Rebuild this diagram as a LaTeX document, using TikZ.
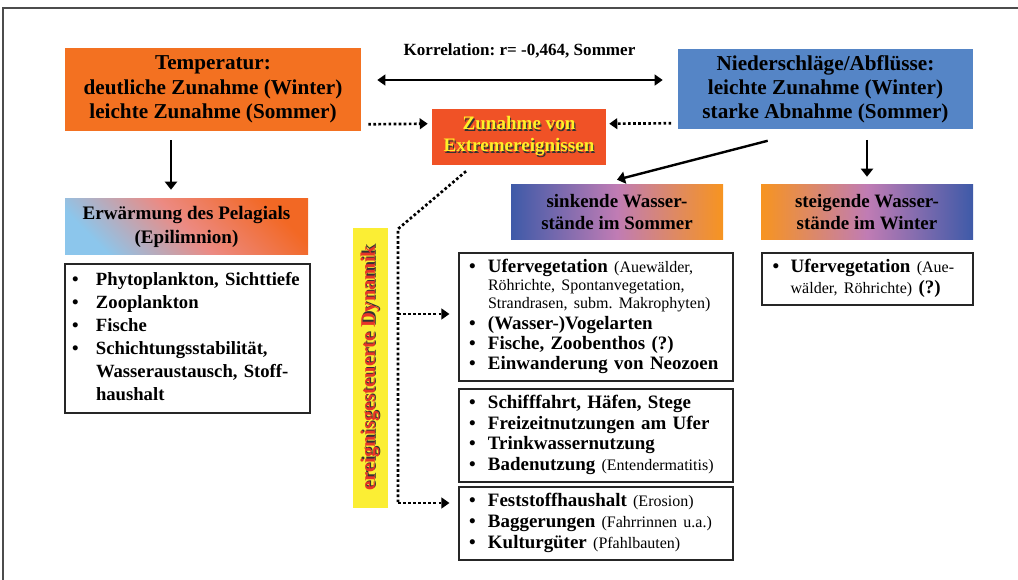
\documentclass[tikz,border=0pt]{standalone}
\usepackage{fontspec}
\setmainfont{Liberation Serif}
\usetikzlibrary{arrows.meta}
\frenchspacing

\definecolor{tempor}{RGB}{243,113,33}
\definecolor{niedbl}{RGB}{85,133,198}
\definecolor{extrrd}{RGB}{240,82,38}
\definecolor{extryl}{RGB}{255,240,40}
\definecolor{dynyl}{RGB}{251,238,52}
\definecolor{dynrd}{RGB}{232,52,40}
\definecolor{gradbl}{RGB}{62,90,168}
\definecolor{gradpk}{RGB}{192,124,180}
\definecolor{grador}{RGB}{247,148,32}
\definecolor{erwbl}{RGB}{140,198,236}
\definecolor{erwpk}{RGB}{236,138,130}
\definecolor{erwor}{RGB}{242,104,36}

\newcommand{\shtext}[2]{\makebox[0pt][l]{\kern0.9pt\raisebox{-0.9pt}{\color{black!80}#2}}{\color{#1}#2}}
\newcommand{\lbul}[1]{\makebox[#1][l]{\textbullet}}
\newcommand{\rgtxt}[1]{{\fontsize{12}{13.5}\selectfont\mdseries #1}}

\begin{document}
\begin{tikzpicture}[x=0.75pt,y=0.75pt,yscale=-1,xscale=1,
  hdbox/.style={inner sep=0pt, align=center, font=\fontsize{15.9}{18.2}\selectfont\bfseries},
  listbox/.style={draw=black!85, line width=0.8pt, fill=white, inner ysep=0pt, align=left},
  arr/.style={-{Triangle[length=6pt,width=9pt]}, line width=1.8pt},
  dblarr/.style={{Triangle[length=6pt,width=8pt]}-{Triangle[length=6pt,width=8pt]}, line width=1.9pt},
  dotln/.style={line width=2pt, dash pattern=on 2pt off 1.8pt},
  dotarr/.style={dotln, -{Triangle[length=6pt,width=8pt]}}]
\useasboundingbox (0,0) rectangle (1018,580);

%Shape: Frame
\draw[black!70, line width=1.2pt] (3,580) -- (3,8) -- (1018,8) ;

% Text Node
\node[hdbox, fill=tempor, minimum width=222pt, minimum height=62.25pt] (temp) at (213,89.5) {Temperatur:\\deutliche Zunahme (Winter)\\leichte Zunahme (Sommer)};
% Text Node
\node[hdbox, fill=niedbl, minimum width=221.25pt, minimum height=60pt] (nied) at (825.5,89.5) {Niederschläge/Abflüsse:\\leichte Zunahme (Winter)\\starke Abnahme (Sommer)};
% Text Node
\node[inner sep=0pt, font=\fontsize{12.8}{14}\selectfont\bfseries] (korr) at (519.5,51) {Korrelation: r= -0,464, Sommer};
% Text Node
\node[hdbox, fill=extrrd, minimum width=130.5pt, minimum height=42pt, font=\fontsize{14.3}{16.5}\selectfont\bfseries] (extr) at (519,137) {\shtext{extryl}{Zunahme von}\\\shtext{extryl}{Extremereignissen}};
% Text Node
\node[hdbox, left color=erwbl, right color=erwor, middle color=erwpk, shading angle=135, minimum width=182.25pt, minimum height=42pt, font=\fontsize{14.3}{18}\selectfont\bfseries] (erw) at (186.5,227) {Erwärmung des Pelagials\\(Epilimnion)};
% Text Node
\node[hdbox, left color=gradbl, right color=grador, middle color=gradpk, minimum width=159pt, minimum height=41.25pt, font=\fontsize{14.2}{16.5}\selectfont\bfseries] (sink) at (617,212.5) {sinkende Wasser-\\stände im Sommer};
% Text Node
\node[hdbox, left color=grador, right color=gradbl, middle color=gradpk, minimum width=159pt, minimum height=41.25pt, font=\fontsize{14.2}{16.5}\selectfont\bfseries] (steig) at (867,212.5) {steigende Wasser-\\stände im Winter};
% Text Node
\node[rotate=90, fill=dynyl, minimum width=210pt, minimum height=26.25pt, inner sep=0pt, font=\fontsize{15.5}{17}\selectfont\bfseries] (dyn) at (370.5,368) {\shtext{dynrd}{ereignisgesteuerte Dynamik}};

% Text Node
\node[listbox, inner xsep=5.25pt, text width=173.25pt, minimum height=111.75pt, font=\fontsize{14}{17.25}\selectfont\bfseries] (lst1) at (187.5,338.5) {\noindent\begin{tabular}{@{}l@{}l@{}}
\lbul{18pt} & Phytoplankton, Sichttiefe\\
\lbul{18pt} & Zooplankton\\
\lbul{18pt} & Fische\\
\lbul{18pt} & Schichtungsstabilität,\\
 & Wasseraustausch, Stoff-\\
 & haushalt
\end{tabular}};
% Text Node
\node[listbox, inner xsep=7.5pt, text width=190.5pt, minimum height=96pt, font=\fontsize{14.2}{15.2}\selectfont\bfseries] (lst2) at (596,317) {\noindent\begin{tabular}{@{}l@{}l@{}}
\lbul{14.25pt} & Ufervegetation \rgtxt{(Auewälder,}\\[-1.5pt]
 & \rgtxt{Röhrichte, Spontanvegetation,}\\[-1.5pt]
 & \rgtxt{Strandrasen, subm. Makrophyten)}\\
\lbul{14.25pt} & (Wasser-)Vogelarten\\
\lbul{14.25pt} & Fische, Zoobenthos (?)\\
\lbul{14.25pt} & Einwanderung von Neozoen
\end{tabular}};
% Text Node
\node[listbox, inner xsep=7.5pt, text width=190.5pt, minimum height=69.75pt, font=\fontsize{14.2}{15.5}\selectfont\bfseries] (lst3) at (596,435.5) {\noindent\begin{tabular}{@{}l@{}l@{}}
\lbul{14.25pt} & Schifffahrt, Häfen, Stege\\
\lbul{14.25pt} & Freizeitnutzungen am Ufer\\
\lbul{14.25pt} & Trinkwassernutzung\\
\lbul{14.25pt} & Badenutzung \rgtxt{(Entendermatitis)}
\end{tabular}};
% Text Node
\node[listbox, inner xsep=7.5pt, text width=190.5pt, minimum height=54.75pt, font=\fontsize{14.2}{15.5}\selectfont\bfseries] (lst4) at (596,523.5) {\noindent\begin{tabular}{@{}l@{}l@{}}
\lbul{14.25pt} & Feststoffhaushalt \rgtxt{(Erosion)}\\
\lbul{14.25pt} & Baggerungen \rgtxt{(Fahrrinnen u.a.)}\\
\lbul{14.25pt} & Kulturgüter \rgtxt{(Pfahlbauten)}
\end{tabular}};
% Text Node
\node[listbox, inner xsep=8pt, text width=142.25pt, minimum height=39pt, font=\fontsize{14.2}{15.5}\selectfont\bfseries] (lst5) at (867.5,279) {\noindent\begin{tabular}{@{}l@{}l@{}}
\lbul{13.5pt} & Ufervegetation \rgtxt{(Aue-}\\
 & \rgtxt{wälder, Röhrichte)} (?)
\end{tabular}};

%Straight Lines
\draw[dblarr] ([shift={(12pt,-7.1pt)}]temp.east) -- ([shift={(-11.25pt,-7.1pt)}]nied.west) ;
\draw[dotarr] ([shift={(5.25pt,-5.25pt)}]temp.south east) -- ([shift={(-3pt,11.25pt)}]extr.north west) ;
\draw[dotarr] ([shift={(-4.875pt,-4.875pt)}]nied.south west) -- ([shift={(2.25pt,11.25pt)}]extr.north east) ;
\draw[arr] ([shift={(-31.5pt,6.75pt)}]temp.south) -- ([shift={(-11.625pt,-6.75pt)}]erw.north) ;
\draw[arr] ([shift={(67.5pt,8.25pt)}]nied.south west) -- ([yshift=-3.75pt]sink.north) ;
\draw[arr] ([shift={(31.125pt,7.5pt)}]nied.south) -- ([yshift=-6pt]steig.north) ;

%Dotted path
\coordinate (knick) at (398,229);
\coordinate (abzw) at (398,314);
\coordinate (fuss) at (398,503);
\draw[dotln] ([shift={(-39.75pt,4.5pt)}]extr.south) -- (knick) -- (fuss) ;
\draw[dotarr, shorten >=6.75pt] (abzw) -- (abzw -| lst2.west) ;
\draw[dotarr, shorten >=6.75pt] (fuss) -- (fuss -| lst4.west) ;

\end{tikzpicture}
\end{document}
